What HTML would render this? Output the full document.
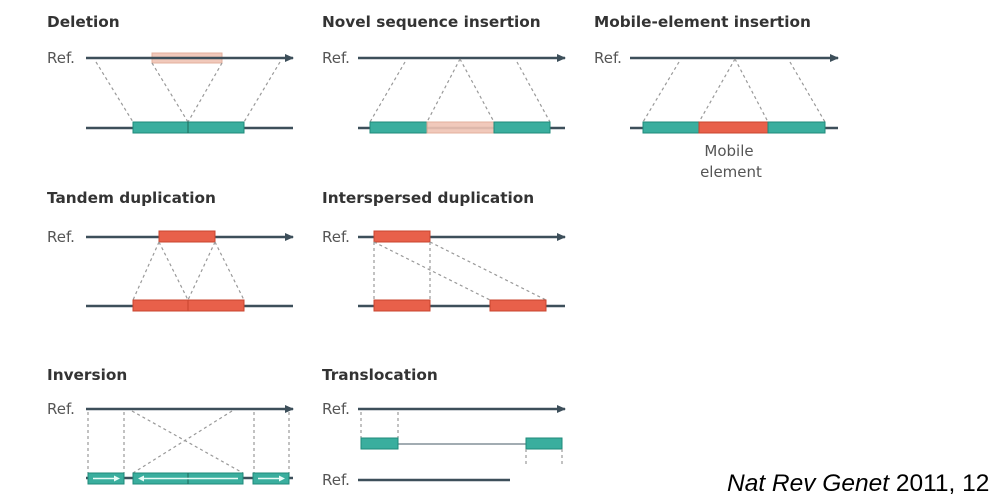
<!DOCTYPE html>
<html><head><meta charset="utf-8"><style>
html,body{margin:0;padding:0;background:#fff;overflow:hidden;}
svg{display:block;}
.t{font-family:"DejaVu Sans","Liberation Sans",sans-serif;font-weight:bold;font-size:15.3px;fill:#333;}
.r{font-family:"DejaVu Sans","Liberation Sans",sans-serif;font-size:15px;fill:#555;}
.ln{stroke:#3d4f5a;stroke-width:2.5;fill:none;}
.d{stroke:#999;stroke-width:1.2;stroke-dasharray:3 3;fill:none;}
.tl{fill:#3aae9e;stroke:#1f8a7a;stroke-width:1;}
.rd{fill:#e8604a;stroke:#c9452f;stroke-width:1;}
.pk{fill:#f0c4b4;stroke:#e0a894;stroke-width:1;opacity:.9;}
</style></head><body>
<svg width="990" height="496" viewBox="0 0 990 496" xmlns="http://www.w3.org/2000/svg">
<defs><marker id="a" markerWidth="10" markerHeight="10" refX="8" refY="5" orient="auto" markerUnits="userSpaceOnUse"><path d="M0,1 L9,5 L0,9 Z" fill="#3d4f5a"/></marker></defs>

<text class="t" x="47" y="27">Deletion</text>
<text class="r" x="47" y="63">Ref.</text>
<rect class="pk" x="152" y="53" width="70" height="10"/>
<line class="ln" x1="86" y1="58" x2="293" y2="58" marker-end="url(#a)"/>
<line class="d" x1="96" y1="62" x2="133" y2="122"/><line class="d" x1="152" y1="63" x2="188" y2="122"/>
<line class="d" x1="222" y1="63" x2="188" y2="122"/><line class="d" x1="280" y1="62" x2="244" y2="122"/>
<line class="ln" x1="86" y1="128" x2="293" y2="128"/>
<rect class="tl" x="133" y="122" width="111" height="11"/><line x1="188" y1="122" x2="188" y2="133" stroke="#1f6a5a"/>

<text class="t" x="322" y="27">Novel sequence insertion</text>
<text class="r" x="322" y="63">Ref.</text>
<line class="ln" x1="358" y1="58" x2="565" y2="58" marker-end="url(#a)"/>
<line class="d" x1="405" y1="62" x2="370" y2="122"/><line class="d" x1="460" y1="59" x2="427" y2="122"/>
<line class="d" x1="460" y1="59" x2="494" y2="122"/><line class="d" x1="517" y1="62" x2="550" y2="122"/>
<line class="ln" x1="358" y1="128" x2="565" y2="128"/>
<rect class="tl" x="370" y="122" width="57" height="11"/><rect class="pk" x="427" y="122" width="67" height="11"/><rect class="tl" x="494" y="122" width="56" height="11"/>

<text class="t" x="594" y="27">Mobile-element insertion</text>
<text class="r" x="594" y="63">Ref.</text>
<line class="ln" x1="630" y1="58" x2="838" y2="58" marker-end="url(#a)"/>
<line class="d" x1="679" y1="62" x2="643" y2="122"/><line class="d" x1="735" y1="59" x2="699" y2="122"/>
<line class="d" x1="735" y1="59" x2="768" y2="122"/><line class="d" x1="790" y1="62" x2="825" y2="122"/>
<line class="ln" x1="630" y1="128" x2="838" y2="128"/>
<rect class="tl" x="643" y="122" width="56" height="11"/><rect class="rd" x="699" y="122" width="69" height="11"/><rect class="tl" x="768" y="122" width="57" height="11"/>
<text class="r" x="729" y="156" text-anchor="middle">Mobile</text>
<text class="r" x="731" y="177" text-anchor="middle">element</text>

<text class="t" x="47" y="203">Tandem duplication</text>
<text class="r" x="47" y="242">Ref.</text>
<line class="ln" x1="86" y1="237" x2="293" y2="237" marker-end="url(#a)"/>
<rect class="rd" x="159" y="231" width="56" height="11"/>
<line class="d" x1="159" y1="242" x2="133" y2="300"/><line class="d" x1="215" y1="242" x2="188" y2="300"/>
<line class="d" x1="159" y1="242" x2="188" y2="300"/><line class="d" x1="215" y1="242" x2="244" y2="300"/>
<line class="ln" x1="86" y1="306" x2="293" y2="306"/>
<rect class="rd" x="133" y="300" width="55" height="11"/><rect class="rd" x="188" y="300" width="56" height="11"/>

<text class="t" x="322" y="203">Interspersed duplication</text>
<text class="r" x="322" y="242">Ref.</text>
<line class="ln" x1="358" y1="237" x2="565" y2="237" marker-end="url(#a)"/>
<rect class="rd" x="374" y="231" width="56" height="11"/>
<line class="d" x1="374" y1="242" x2="374" y2="300"/><line class="d" x1="430" y1="242" x2="430" y2="300"/>
<line class="d" x1="374" y1="242" x2="490" y2="300"/><line class="d" x1="430" y1="242" x2="546" y2="300"/>
<line class="ln" x1="358" y1="306" x2="565" y2="306"/>
<rect class="rd" x="374" y="300" width="56" height="11"/><rect class="rd" x="490" y="300" width="56" height="11"/>

<text class="t" x="47" y="380">Inversion</text>
<text class="r" x="47" y="414">Ref.</text>
<line class="ln" x1="86" y1="409" x2="293" y2="409" marker-end="url(#a)"/>
<line class="d" x1="88" y1="412" x2="88" y2="473"/><line class="d" x1="124" y1="412" x2="124" y2="473"/>
<line class="d" x1="254" y1="412" x2="254" y2="473"/><line class="d" x1="289" y1="412" x2="289" y2="473"/>
<line class="d" x1="132" y1="411" x2="243" y2="473"/><line class="d" x1="232" y1="411" x2="133" y2="473"/>
<line class="ln" x1="86" y1="478" x2="293" y2="478"/>
<rect class="tl" x="88" y="473" width="36" height="11"/><rect class="tl" x="133" y="473" width="110" height="11"/><rect class="tl" x="253" y="473" width="36" height="11"/>
<line x1="188" y1="473" x2="188" y2="484" stroke="#1f6a5a"/>
<g stroke="#e8fbf7" stroke-width="1.5" fill="#e8fbf7">
<line x1="93" y1="478.5" x2="116" y2="478.5"/><path d="M120,478.5 L114,475.5 L114,481.5 Z" stroke="none"/>
<line x1="142" y1="478.5" x2="238" y2="478.5"/><path d="M138,478.5 L144,475.5 L144,481.5 Z" stroke="none"/>
<line x1="258" y1="478.5" x2="281" y2="478.5"/><path d="M285,478.5 L279,475.5 L279,481.5 Z" stroke="none"/>
</g>

<text class="t" x="322" y="380">Translocation</text>
<text class="r" x="322" y="414">Ref.</text>
<line class="ln" x1="358" y1="409" x2="565" y2="409" marker-end="url(#a)"/>
<line class="d" x1="361" y1="412" x2="361" y2="438"/><line class="d" x1="398" y1="412" x2="398" y2="438"/>
<line x1="398" y1="444" x2="526" y2="444" stroke="#6a7a84" stroke-width="1.3"/>
<rect class="tl" x="361" y="438" width="37" height="11"/><rect class="tl" x="526" y="438" width="36" height="11"/>
<line class="d" x1="526" y1="449" x2="526" y2="465"/><line class="d" x1="562" y1="449" x2="562" y2="465"/>
<text class="r" x="322" y="485">Ref.</text>
<line class="ln" x1="358" y1="480" x2="510" y2="480"/>

<text x="727" y="491" font-family="'Liberation Sans',Arial,sans-serif" font-size="24.5" fill="#000"><tspan font-style="italic">Nat Rev Genet</tspan> 2011, 12</text>
</svg>
</body></html>
